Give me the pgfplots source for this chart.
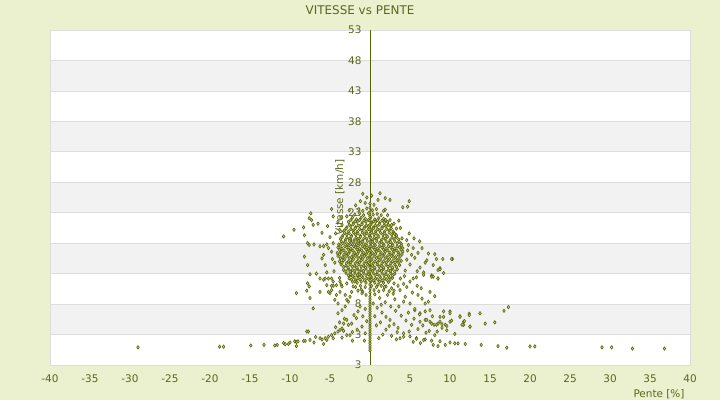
\documentclass[border=0pt]{standalone}
\usepackage{pgfplots}
\pgfplotsset{compat=1.18}
\usepackage{fontspec}
\setmainfont{DejaVu Sans}
\definecolor{bg}{RGB}{235,240,207}
\definecolor{txt}{RGB}{92,102,30}
\definecolor{mk}{RGB}{88,98,12}
\definecolor{mkfill}{RGB}{205,218,120}
\definecolor{band}{RGB}{242,242,242}
\definecolor{gridc}{RGB}{221,221,221}
\pgfplotsset{
  base/.style={
    at={(50bp,35bp)}, anchor=south west,
    scale only axis, width=640bp, height=335bp,
    xmin=-40, xmax=40, ymin=-2, ymax=53,
    major tick length=0pt,
    tick label style={font=\fontsize{10.5}{12}\selectfont, text=txt},
    /pgf/number format/assume math mode=true,
    clip=false,
  }
}
\begin{document}
\begin{tikzpicture}
\fill[bg] (0,0) rectangle (720bp,400bp);
\fill[white] (50bp,35bp) rectangle (690bp,370bp);
\fill[band] (50bp,65.45bp) rectangle (690bp,95.91bp);
\fill[band] (50bp,126.36bp) rectangle (690bp,156.82bp);
\fill[band] (50bp,187.27bp) rectangle (690bp,217.73bp);
\fill[band] (50bp,248.18bp) rectangle (690bp,278.64bp);
\fill[band] (50bp,309.09bp) rectangle (690bp,339.55bp);
\foreach \yy in {65.45,95.91,126.36,156.82,187.27,217.73,248.18,278.64,309.09,339.55}
  \draw[gridc, line width=0.8bp] (50bp,\yy bp) -- (690bp,\yy bp);
\draw[gridc, line width=0.8bp] (50bp,35bp) rectangle (690bp,370bp);
\node[text=txt, font=\fontsize{12}{14}\selectfont] at (360bp,390bp) {VITESSE vs PENTE};
\begin{axis}[
  base,
  axis x line=none, axis y line=center,
  hide obscured y ticks=false,
  axis line style={-},
  y axis line style={draw=mk, line width=0.9bp},
  ytick={-2,3,...,53},
  yticklabels={3,3,8,13,18,23,28,33,38,43,48,53},
  yticklabel style={xshift=-5bp},
  ylabel={Vitesse [km/h]},
  every axis y label/.style={at={(rel axis cs:0.453,0.5)}, rotate=90, anchor=center, font=\fontsize{10.5}{12}\selectfont, text=txt},
]
\end{axis}
\begin{axis}[
  base,
  axis x line=bottom, axis y line=none,
  hide obscured x ticks=false,
  axis line style={-},
  x axis line style={draw=gridc},
  xtick={-40,-35,...,40},
  xticklabel style={yshift=-6bp},
  xlabel={Pente [\%]},
  every axis x label/.style={at={(rel axis cs:1,0)}, anchor=base east, yshift=-32bp, xshift=-2bp, font=\fontsize{10.5}{12}\selectfont, text=txt},
]
\addplot[only marks, mark=diamond*, mark size=1.7bp, mark options={draw=mk, fill=mkfill, line width=0.6bp}] coordinates {
(-1.4,23.6) (-0.9,23.3) (-0.4,23.7) (0.3,23.4) (0.8,23.6)
(-1.9,22.7) (-1.3,22.9) (-0.8,22.6) (-0.2,22.9) (0.4,22.7) (0.9,22.8) (1.4,22.6)
(-2.2,22.2) (-1.7,21.9) (-1.1,22.2) (-0.6,22.0) (0.1,22.2) (0.6,21.9) (1.1,22.1) (1.7,22.0)
(-2.7,21.5) (-2.1,21.3) (-1.6,21.5) (-1.0,21.3) (-0.5,21.5) (0.2,21.3) (0.7,21.5) (1.2,21.3) (1.8,21.4) (2.2,21.5)
(-2.9,20.6) (-2.4,20.8) (-1.8,20.6) (-1.3,20.8) (-0.7,20.6) (-0.2,20.8) (0.4,20.6) (0.9,20.8) (1.5,20.6) (2.0,20.8) (2.6,20.7)
(-3.2,20.1) (-2.7,19.9) (-2.1,20.1) (-1.6,19.9) (-1.0,20.1) (-0.5,19.9) (0.2,20.1) (0.7,19.9) (1.2,20.1) (1.8,19.9) (2.4,20.1) (2.9,19.9)
(-3.4,19.2) (-2.9,19.4) (-2.3,19.2) (-1.8,19.4) (-1.2,19.2) (-0.7,19.4) (-0.1,19.2) (0.5,19.4) (1.0,19.2) (1.6,19.4) (2.1,19.2) (2.7,19.4) (3.2,19.3)
(-3.7,18.7) (-3.1,18.5) (-2.6,18.7) (-2.0,18.5) (-1.5,18.7) (-0.9,18.5) (-0.4,18.7) (0.3,18.5) (0.8,18.7) (1.4,18.5) (1.9,18.7) (2.5,18.5) (3.0,18.7) (3.6,18.6)
(-3.9,17.8) (-3.4,18.0) (-2.8,17.8) (-2.3,18.0) (-1.7,17.8) (-1.2,18.0) (-0.6,17.8) (0.1,18.0) (0.6,17.8) (1.2,18.0) (1.7,17.8) (2.3,18.0) (2.8,17.8) (3.4,18.0) (3.9,17.9)
(-4.0,17.3) (-3.5,17.1) (-2.9,17.3) (-2.4,17.1) (-1.8,17.3) (-1.3,17.1) (-0.7,17.3) (-0.2,17.1) (0.4,17.3) (0.9,17.1) (1.5,17.3) (2.0,17.1) (2.6,17.3) (3.1,17.1) (3.7,17.3) (4.1,17.2)
(-4.1,16.4) (-3.6,16.6) (-3.0,16.4) (-2.5,16.6) (-1.9,16.4) (-1.4,16.6) (-0.8,16.4) (-0.3,16.6) (0.3,16.4) (0.8,16.6) (1.4,16.4) (1.9,16.6) (2.5,16.4) (3.0,16.6) (3.6,16.4) (4.1,16.6)
(-4.0,15.9) (-3.4,15.7) (-2.9,15.9) (-2.3,15.7) (-1.8,15.9) (-1.2,15.7) (-0.7,15.9) (-0.1,15.7) (0.5,15.9) (1.0,15.7) (1.6,15.9) (2.1,15.7) (2.7,15.9) (3.2,15.7) (3.8,15.9)
(-3.8,15.0) (-3.3,15.2) (-2.7,15.0) (-2.2,15.2) (-1.6,15.0) (-1.1,15.2) (-0.5,15.0) (0.1,15.2) (0.6,15.0) (1.2,15.2) (1.7,15.0) (2.3,15.2) (2.8,15.0) (3.4,15.2) (3.9,15.1)
(-3.6,14.5) (-3.0,14.3) (-2.5,14.5) (-1.9,14.3) (-1.4,14.5) (-0.8,14.3) (-0.3,14.5) (0.3,14.3) (0.9,14.5) (1.4,14.3) (2.0,14.5) (2.5,14.3) (3.1,14.5) (3.7,14.4)
(-3.3,13.6) (-2.7,13.8) (-2.2,13.6) (-1.6,13.8) (-1.1,13.6) (-0.5,13.8) (0.1,13.6) (0.6,13.8) (1.2,13.6) (1.7,13.8) (2.3,13.6) (2.8,13.8) (3.4,13.7)
(-3.0,13.1) (-2.4,12.9) (-1.9,13.1) (-1.3,12.9) (-0.8,13.1) (-0.2,12.9) (0.4,13.1) (0.9,12.9) (1.5,13.1) (2.0,12.9) (2.6,13.1) (3.1,13.0)
(-2.6,12.2) (-2.0,12.4) (-1.5,12.2) (-0.9,12.4) (-0.4,12.2) (0.2,12.4) (0.7,12.2) (1.3,12.4) (1.8,12.2) (2.4,12.4) (2.8,12.3)
(-2.2,11.7) (-1.6,11.5) (-1.1,11.7) (-0.5,11.5) (0.1,11.7) (0.6,11.5) (1.2,11.7) (1.7,11.5) (2.3,11.6)
(-1.8,10.8) (-1.2,11.0) (-0.6,10.8) (0.2,11.0) (0.8,10.8) (1.4,11.0) (2.0,10.9)
(-1.5,10.2) (-0.9,10.0) (0.5,10.3) (1.1,10.1) (1.7,10.3) (2.4,10.1) (3.0,10.2)
(-2.4,21.8) (-1.85,21.6) (-1.3,21.8) (-0.75,21.7) (-0.2,21.8) (0.45,21.6) (0.95,21.8) (1.5,21.7) (1.95,21.8)
(-2.6,21.0) (-2.1,21.1) (-1.5,20.9) (-1.0,21.1) (-0.45,20.9) (0.1,21.1) (0.65,20.9) (1.2,21.1) (1.75,20.9) (2.3,21.0)
(-3.0,20.4) (-2.4,20.3) (-1.85,20.45) (-1.3,20.3) (-0.75,20.45) (-0.2,20.3) (0.45,20.45) (0.95,20.3) (1.5,20.45) (2.1,20.3) (2.65,20.4)
(-3.2,19.7) (-2.6,19.6) (-2.05,19.75) (-1.5,19.6) (-0.95,19.75) (-0.4,19.6) (0.2,19.75) (0.75,19.6) (1.3,19.75) (1.85,19.6) (2.4,19.75) (3.0,19.65)
(-3.5,19.0) (-2.9,18.9) (-2.35,19.05) (-1.75,18.9) (-1.2,19.05) (-0.65,18.9) (0.05,19.05) (0.55,18.9) (1.1,19.05) (1.65,18.9) (2.2,19.05) (2.75,18.9) (3.3,19.0)
(-3.6,18.3) (-3.1,18.2) (-2.55,18.35) (-2.0,18.2) (-1.45,18.35) (-0.9,18.2) (-0.35,18.35) (0.35,18.2) (0.85,18.35) (1.45,18.2) (2.0,18.35) (2.55,18.2) (3.1,18.35) (3.65,18.25)
(-3.7,17.6) (-3.15,17.5) (-2.6,17.65) (-2.05,17.5) (-1.5,17.65) (-0.95,17.5) (-0.4,17.65) (0.15,17.5) (0.65,17.65) (1.2,17.5) (1.75,17.65) (2.3,17.5) (2.85,17.65) (3.4,17.5) (3.9,17.6)
(-3.8,16.9) (-3.25,16.8) (-2.7,16.95) (-2.15,16.8) (-1.6,16.95) (-1.05,16.8) (-0.5,16.95) (0.05,16.8) (0.6,16.95) (1.15,16.8) (1.7,16.95) (2.25,16.8) (2.8,16.95) (3.35,16.8) (3.9,16.9)
(-3.8,16.2) (-3.25,16.1) (-2.7,16.25) (-2.1,16.1) (-1.55,16.25) (-1.0,16.1) (-0.45,16.25) (0.1,16.1) (0.7,16.25) (1.25,16.1) (1.8,16.25) (2.35,16.1) (2.9,16.25) (3.5,16.1) (4.0,16.2)
(-3.7,15.5) (-3.15,15.4) (-2.6,15.55) (-2.05,15.4) (-1.5,15.55) (-0.9,15.4) (-0.35,15.55) (0.25,15.4) (0.8,15.55) (1.35,15.4) (1.9,15.55) (2.45,15.4) (3.0,15.55) (3.6,15.4)
(-3.5,14.8) (-2.95,14.7) (-2.4,14.85) (-1.85,14.7) (-1.3,14.85) (-0.75,14.7) (-0.2,14.85) (0.4,14.7) (0.95,14.85) (1.5,14.7) (2.05,14.85) (2.6,14.7) (3.15,14.85) (3.6,14.75)
(-3.3,14.1) (-2.75,14.0) (-2.2,14.15) (-1.65,14.0) (-1.1,14.15) (-0.55,14.0) (0.0,14.15) (0.6,14.0) (1.15,14.15) (1.7,14.0) (2.25,14.15) (2.8,14.0) (3.3,14.1)
(-3.0,13.4) (-2.5,13.3) (-1.9,13.45) (-1.35,13.3) (-0.8,13.45) (-0.25,13.3) (0.35,13.45) (0.9,13.3) (1.45,13.45) (2.0,13.3) (2.55,13.45) (3.1,13.35)
(-2.7,12.7) (-2.15,12.6) (-1.6,12.75) (-1.05,12.6) (-0.5,12.75) (0.1,12.6) (0.65,12.75) (1.2,12.6) (1.75,12.75) (2.3,12.6) (2.8,12.7)
(-2.3,12.0) (-1.8,11.9) (-1.25,12.05) (-0.7,11.9) (-0.15,12.05) (0.4,11.9) (0.95,12.05) (1.5,11.9) (2.05,12.05) (2.5,11.95)
(-0.9,26.1) (-0.4,25.5) (1.25,26.2) (1.0,25.1) (1.9,25.4) (2.5,25.1) (4.9,24.9) (4.7,24.0) (4.1,23.9) (1.9,23.5) (1.7,23.3)
(-1.8,24.2) (-0.6,24.6) (0.5,24.3) (-2.6,23.4) (2.2,22.6) (-1.2,24.9) (0.2,25.8) (-2.9,22.4) (2.5,21.8) (3.0,21.2) (3.3,20.4) (-3.5,21.0) (-3.8,20.2)
(-4.8,23.6) (-6,19.7) (-4.6,18.0) (-5.2,17.2) (-4.8,16.6) (-5.8,16.1) (-6,15.5) (-5.6,14.4) (-6.25,17.5) (-5.8,17.5) (-5.4,17.8) (-7,17.8)
(-7.6,17.7) (-7.8,18.0) (-8.2,19.3) (-8.3,20.6) (-9.5,20.2) (-10.8,19.1) (-7.4,22.9) (-7.6,22.1) (-7.3,21.8) (-7.1,21.0) (-8.2,15.8) (-7.8,14.4)
(-7.5,12.9) (-6.7,13.0) (-6.25,12.2) (-5.8,12.0) (-5.6,12.2) (-5.2,12.2) (-4.8,12.2) (-4.5,13.4) (-4.4,14.8) (-4.7,15.4) (-5.0,19.0) (-4.3,19.6)
(-4.0,21.5) (-5.3,20.8) (-6.5,21.2) (-4.6,22.4) (-3.6,22.3) (-5.4,13.2) (-4.6,11.0) (-3.8,12.3) (-3.6,11.2)
(6.2,18.3) (6.5,17.2) (6.0,16.4) (5.4,17.2) (5.2,16.1) (7.1,15.2) (6.9,14.8) (8.3,15.4) (9.1,15.4) (10.3,15.4) (7.9,14.4) (8.5,13.6) (8.75,13.9)
(6.25,14.0) (6.7,13.2) (6.7,12.8) (7.7,12.7) (5.8,12.4) (5.4,12.2) (5.0,11.7) (8.5,12.2) (4.0,18.8) (4.6,18.5) (4.8,17.7) (3.1,19.5) (3.3,19.3)
(2.7,21.0) (8.1,16.2) (9.2,13.1) (4.6,15.3) (4.7,16.8) (5.0,14.5) (4.4,13.5) (5.6,15.6) (4.3,12.6) (3.8,12.2) (4.2,11.3) (3.5,11.0) (5.9,13.4)
(4.9,19.6) (3.8,20.5) (3.6,21.7) (5.5,18.8) (7.3,16.3)
(-4,6.5) (-3.5,7.0) (-3.1,7.6) (-2.7,8.4) (-2.5,9.2) (-2.3,10.0) (-2.1,10.9) (-1.9,11.7) (-2.9,5.4) (-2.3,4.8) (-1.7,5.7) (-1.5,6.8) (-1.25,7.6)
(-3.3,4.8) (-2.7,4.6) (-4,8.1) (-4.4,8.7) (-2.9,8.7) (-3.1,9.5) (-4.2,9.5) (-3.75,10.0) (-9.2,9.8) (-7.5,9.0) (-7.1,7.3) (-6.25,10.0)
(-7.8,11.4) (-7.6,10.9) (-7.9,10.2) (-5,9.8) (-4.8,10.3) (-5.2,10.0) (-5.4,11.1) (-4.8,11.0) (-4.6,11.7) (-4.2,11.1) (-3.75,11.7) (-3.5,10.9)
(-2.9,11.4) (-1.0,9.8) (-0.6,7.2) (-0.9,6.0) (-1.1,10.4) (-0.5,9.5) (-2.0,6.2) (-0.4,5.2) (-1.0,4.3)
(-1.6,3.8) (-0.6,3.2) (-2.2,3.4) (-0.7,2.0)
(-4.0,3.5) (-3.75,3.75) (-3.5,4.0) (-3.3,3.6) (-2.9,2.9) (-2.5,2.9) (-4.8,2.9) (-4.6,2.4) (-5.6,2.4) (-5.4,2.1) (-5.2,2.65) (-6.25,2.4)
(-6.0,2.2) (-5.8,1.45) (-7.5,2.1) (-7,1.7) (-8.3,1.95) (-8.1,1.95) (-9.4,1.9) (-9.2,1.75) (-9,1.9) (-9.2,1.1) (-10.2,1.45) (-10,1.7)
(-10.8,1.6) (-11.9,1.2) (-7.9,3.5) (-7.7,3.5) (-13.25,1.3) (-14.9,1.2) (-18.3,1.0) (-18.8,1.0) (-29,0.9) (-4.4,3.2) (-6.8,2.6) (-3.2,5.6)
(-3.8,5.0) (-4.3,4.2) (-2.2,2.0) (-3.5,2.5) (-11.6,1.3) (-10.6,1.4)
(10,1.7) (10.6,1.55) (11,1.55) (11.9,1.45) (13.9,1.3) (16.0,1.1) (17.1,0.85) (20.0,1.05) (20.6,1.05) (29.0,0.9) (30.2,0.9) (32.8,0.7) (36.8,0.7)
(8.75,1.9) (7.7,2.0) (7.9,1.3) (8.5,1.1) (6.9,2.2) (5.8,2.4) (5.4,1.8) (4.2,2.65) (2.7,2.8) (3.75,2.4) (9.4,1.3) (6.3,1.6)
(17.3,7.5) (16.75,6.9) (13.75,6.5) (12.4,6.4) (11.25,6.0) (15.6,5.0) (14.4,4.8) (11.7,5.1) (12.5,4.3) (10,6.8) (9.2,6.8) (10,5.1) (9.4,4.6)
(8.5,4.8) (7.7,4.8) (11.25,5.9) (12.4,6.2) (11.7,4.6) (10,6.5) (9.2,5.9) (8.75,5.1) (7.5,10) (8.1,9.3) (7.7,12.5) (8.5,12.2) (6.0,9.5)
(6.9,8.1) (7.3,8.4) (7.5,7.0) (6.9,6.8) (5.6,7.0) (6.25,6.5) (8.75,5.9) (8.75,13.7) (7.9,12.5) (10.2,15.4)
(6.25,5.1) (6.9,5.4) (7.5,5.1) (8.3,4.6) (9.0,4.7) (9.6,4.4) (10.2,5.3) (11.5,4.6) (11.8,5.2) (12.5,4.3)
(0.4,8.1) (0.9,7.4) (1.5,6.6) (2.0,5.9) (2.5,5.4) (3.0,4.7) (3.5,4.1) (4.2,3.2) (5.0,2.7) (5.8,2.3) (6.7,2.1)
(1.0,11.2) (1.8,10.8) (2.7,10.6) (3.75,10.3) (4.4,9.2) (5,8.1) (5.6,7.2) (6.2,6.3) (7.1,5.4) (8.0,4.6) (9.0,4.1)
(0.6,9.6) (1.2,9.0) (1.9,8.3) (2.6,7.6) (3.2,6.9) (3.9,6.1) (4.5,5.3) (5.2,4.6) (6.0,3.9) (7.0,3.3) (8.1,2.9)
(2.2,9.5) (3.1,8.8) (3.6,7.6) (4.8,6.6) (5.5,5.6) (6.6,4.5) (1.3,5.0) (2.0,3.8) (2.4,4.4) (3.4,3.4) (1.6,3.0) (0.8,4.5) (0.6,6.0)
(1.4,7.9) (2.9,9.7) (4.2,8.4) (5.3,9.9) (4.6,10.8) (6.4,10.6) (3.0,11.4) (5.9,11.0) (6.5,8.9) (7.8,6.0) (9.6,3.7) (8.4,3.5) (10.6,3.1)
(7.4,3.6) (4.9,3.5) (3.3,2.2) (1.1,2.4)
(0,0.4) (0,0.8) (0,1.2) (0,1.6) (0,2.0) (0,2.4) (0,2.8) (0,3.2) (0,3.6) (0,4.0) (0,4.4) (0,4.8) (0,5.2) (0,5.6) (0,6.0) (0,6.4)
(0,6.8) (0,7.2) (0,7.6) (0,8.0) (0,8.4) (0,8.8) (0,9.2) (0,9.9) (0,10.5) (0,11.2) (0,11.9) (0,12.6) (0,13.3) (0,14.0) (0,14.7)
(0,15.4) (0,16.1) (0,16.8) (0,17.5) (0,18.2) (0,18.9) (0,19.6) (0,20.3) (0,21.0) (0,21.7) (0,22.4) (0,23.1) (0,23.8) (0,24.5)
};
\end{axis}
\end{tikzpicture}
\end{document}
